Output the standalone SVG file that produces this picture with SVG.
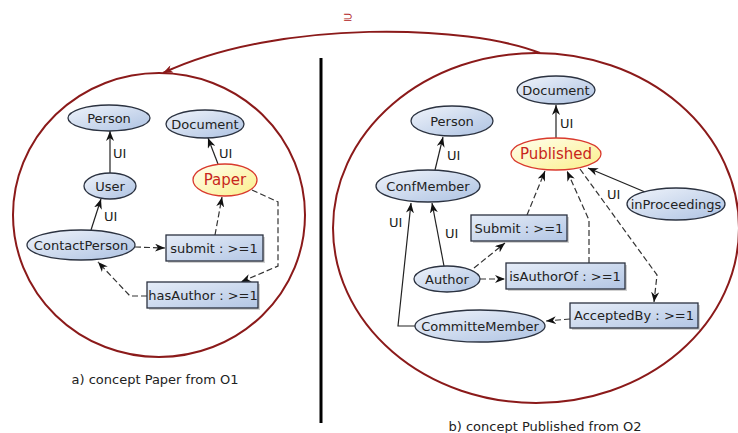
<svg xmlns="http://www.w3.org/2000/svg" width="738" height="433" viewBox="0 0 738 433">
<defs>
<linearGradient id="gE" x1="0" y1="0" x2="1" y2="1">
<stop offset="0" stop-color="#f0f4fb"/><stop offset="1" stop-color="#adc2e2"/>
</linearGradient>
<linearGradient id="gB" x1="0" y1="0" x2="1" y2="1">
<stop offset="0" stop-color="#e6edf8"/><stop offset="1" stop-color="#b3c6e4"/>
</linearGradient>
<linearGradient id="gY" x1="0" y1="0" x2="1" y2="1">
<stop offset="0" stop-color="#fffff0"/><stop offset="1" stop-color="#fbef8a"/>
</linearGradient>
<marker id="ah" viewBox="0 0 10 8" refX="10" refY="4" markerWidth="10" markerHeight="8" markerUnits="userSpaceOnUse" orient="auto">
<path d="M0,0 L10,4 L0,8 L3,4 z" fill="#111"/>
</marker>
<marker id="ar" viewBox="0 0 10 8" refX="10" refY="4" markerWidth="10" markerHeight="8" markerUnits="userSpaceOnUse" orient="auto">
<path d="M0,0 L10,4 L0,8 L3,4 z" fill="#8b1a1a"/>
</marker>
</defs>
<style>
text{font-family:"DejaVu Sans","Liberation Sans",sans-serif;font-size:13px;fill:#222}
.c{text-anchor:middle}
.el{fill:url(#gE);stroke:#2b3240;stroke-width:1.3}
.bx{fill:url(#gB);stroke:#2b3240;stroke-width:1.3}
.sh{fill:#000;opacity:0.18}
.hl{fill:url(#gY);stroke:#d93a2e;stroke-width:1.3}
.ht{fill:#c8261c;font-size:15px}
.e{fill:none;stroke:#222;stroke-width:1.2;marker-end:url(#ah)}
.d{fill:none;stroke:#333;stroke-width:1.2;stroke-dasharray:6,3;marker-end:url(#ah)}
.ring{fill:none;stroke:#8b1a1a;stroke-width:2}
</style>

<rect width="738" height="433" fill="#fff"/>

<g id="frames">
<ellipse class="ring" cx="159" cy="215" rx="146" ry="142"/>
<ellipse class="ring" cx="536" cy="228" rx="203" ry="175"/>
<line x1="321" y1="58" x2="321" y2="423" stroke="#000" stroke-width="3"/>
<path d="M540 53 C470 25 280 18 163 73" fill="none" stroke="#8b1a1a" stroke-width="2" marker-end="url(#ar)"/>
<text x="348" y="21" class="c" style="fill:#b02020;font-size:12px">⊇</text>
</g>

<g id="connectors">
<path class="e" d="M110 173 L110 131"/>
<path class="e" d="M91 230 L101 199"/>
<path class="e" d="M218 164 L208 138"/>
<path class="d" d="M135 247 L165 248"/>
<path class="d" d="M215 235 L222 197"/>
<path class="d" d="M252 190 L278 202 L278 266 L241 282"/>
<path class="d" d="M147 296 L130 296 L98 262"/>

<path class="e" d="M556 138 L556 105"/>
<path class="e" d="M435 170 L443 137"/>
<path class="e" d="M645 192 L588 168"/>
<path class="e" d="M444 266 L432 203"/>
<path class="e" d="M415 326 L398 326 L411 203"/>
<path class="d" d="M474 268 L505 243"/>
<path class="d" d="M527 215 L545 171"/>
<path class="d" d="M480 279 L505 279"/>
<path class="d" d="M589 263 L589 220 L567 171"/>
<path class="d" d="M580 169 L657 275 L654 302"/>
<path class="d" d="M570 319 L546 321"/>

<text x="113" y="158">UI</text>
<text x="104" y="221">UI</text>
<text x="219" y="158">UI</text>
<text x="560" y="128">UI</text>
<text x="447" y="160">UI</text>
<text x="607" y="199">UI</text>
<text x="445" y="238">UI</text>
<text x="389" y="227">UI</text>
</g>

<g id="a-person"><ellipse class="el" cx="109" cy="118" rx="41" ry="13"/><text x="109" y="122.5" class="c">Person</text></g>
<g id="a-document"><ellipse class="el" cx="205" cy="124" rx="39" ry="14"/><text x="205" y="128.5" class="c">Document</text></g>
<g id="a-paper"><ellipse class="hl" cx="225" cy="180" rx="32" ry="16"/><text x="225" y="185" class="c ht">Paper</text></g>
<g id="a-user"><ellipse class="el" cx="110" cy="186" rx="26" ry="13"/><text x="110" y="190.5" class="c">User</text></g>
<g id="a-contactperson"><ellipse class="el" cx="81" cy="245" rx="54" ry="15"/><text x="81" y="249.5" class="c">ContactPerson</text></g>
<g id="a-submit"><rect class="sh" x="168" y="237" width="97" height="26"/><rect class="bx" x="166" y="235" width="97" height="26"/><text x="214" y="252.5" class="c">submit : &gt;=1</text></g>
<g id="a-hasauthor"><rect class="sh" x="149" y="284" width="111" height="26"/><rect class="bx" x="147" y="282" width="111" height="26"/><text x="203" y="299.5" class="c">hasAuthor : &gt;=1</text></g>

<g id="b-document"><ellipse class="el" cx="556" cy="90" rx="39" ry="14"/><text x="556" y="94.5" class="c">Document</text></g>
<g id="b-person"><ellipse class="el" cx="452" cy="121" rx="41" ry="15"/><text x="452" y="125.5" class="c">Person</text></g>
<g id="b-published"><ellipse class="hl" cx="556" cy="154" rx="45" ry="16"/><text x="556" y="159" class="c ht">Published</text></g>
<g id="b-confmember"><ellipse class="el" cx="428" cy="186" rx="52" ry="16"/><text x="428" y="190.5" class="c">ConfMember</text></g>
<g id="b-inproceedings"><ellipse class="el" cx="676" cy="204" rx="49" ry="16"/><text x="676" y="208.5" class="c">inProceedings</text></g>
<g id="b-submit"><rect class="sh" x="473" y="217" width="96" height="26"/><rect class="bx" x="471" y="215" width="96" height="26"/><text x="519" y="232.5" class="c">Submit : &gt;=1</text></g>
<g id="b-author"><ellipse class="el" cx="447" cy="279" rx="33" ry="13"/><text x="447" y="283.5" class="c">Author</text></g>
<g id="b-isauthorof"><rect class="sh" x="508" y="265" width="119" height="26"/><rect class="bx" x="506" y="263" width="119" height="26"/><text x="565" y="280.5" class="c">isAuthorOf : &gt;=1</text></g>
<g id="b-acceptedby"><rect class="sh" x="572" y="305" width="128" height="25"/><rect class="bx" x="570" y="303" width="128" height="25"/><text x="634" y="320" class="c">AcceptedBy : &gt;=1</text></g>
<g id="b-committemember"><ellipse class="el" cx="480" cy="326" rx="65" ry="16"/><text x="480" y="330.5" class="c">CommitteMember</text></g>

<g id="captions">
<text x="155" y="384" class="c">a) concept Paper from O1</text>
<text x="545" y="431" class="c">b) concept Published from O2</text>
</g>
</svg>
